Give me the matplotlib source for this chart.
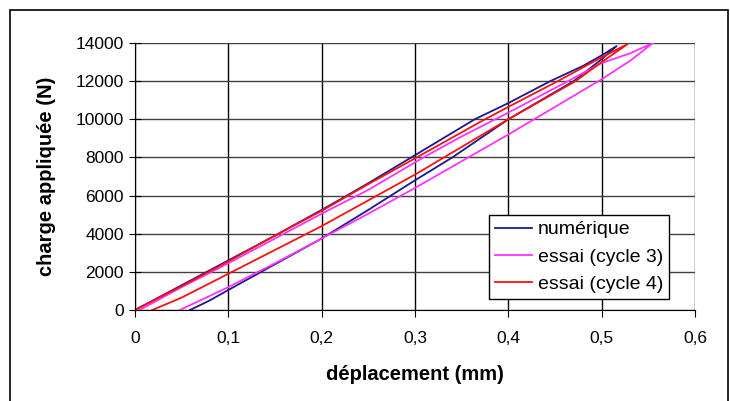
import matplotlib
matplotlib.use("Agg")
import matplotlib.pyplot as plt
from matplotlib.patches import Rectangle

plt.rcParams['font.family'] = ['Liberation Sans', 'DejaVu Sans']

# numérique: loading (lower) then unloading (upper)
num_x = [0.059, 0.08, 0.10, 0.15, 0.20, 0.25, 0.30, 0.34, 0.40, 0.47, 0.50, 0.516,
         0.50, 0.48, 0.445, 0.40, 0.364, 0.296, 0.25, 0.22, 0.20, 0.15, 0.10, 0.05, 0.0]
num_y = [0, 500, 1050, 2400, 3750, 5250, 6800, 8000, 10000, 12000, 13150, 13840,
         13350, 12800, 12000, 10850, 10000, 8000, 6650, 5800, 5250, 3900, 2600, 1300, 0]

# essai cycle 3
c3_x = [0.048, 0.10, 0.15, 0.20, 0.25, 0.30, 0.35, 0.40, 0.45, 0.50, 0.53, 0.555,
        0.53, 0.50, 0.464, 0.40, 0.35, 0.309, 0.25, 0.20, 0.15, 0.10, 0.05, 0.005]
c3_y = [0, 1200, 2450, 3750, 5050, 6400, 7800, 9200, 10650, 12100, 13050, 14000,
        13450, 12950, 12000, 10350, 9100, 8000, 6300, 5050, 3750, 2450, 1200, 0]

# essai cycle 4
c4_x = [0.0186, 0.05, 0.10, 0.15, 0.20, 0.25, 0.30, 0.35, 0.40, 0.472, 0.50, 0.528,
        0.50, 0.453, 0.40, 0.375, 0.30, 0.25, 0.20, 0.15, 0.10, 0.05, 0.0]
c4_y = [0, 650, 1900, 3150, 4400, 5750, 7100, 8550, 10000, 12000, 13000, 13950,
        13250, 12000, 10650, 10000, 7950, 6600, 5200, 3900, 2550, 1250, 0]

series = [("numérique", num_x, num_y, "#1a1a8c"),
          ("essai (cycle 3)", c3_x, c3_y, "#ff33ff"),
          ("essai (cycle 4)", c4_x, c4_y, "#ff1010")]

xticks = [0, 0.1, 0.2, 0.3, 0.4, 0.5, 0.6]
xticklabels = ["0", "0,1", "0,2", "0,3", "0,4", "0,5", "0,6"]
yticks = [0, 2000, 4000, 6000, 8000, 10000, 12000, 14000]

fig = plt.figure(figsize=(7.30, 4.01), dpi=100)
fig.patches.append(Rectangle((10/730, -0.01), 718/730, 1 - 10/401 + 0.01,
                             transform=fig.transFigure, fill=False,
                             edgecolor="black", linewidth=1.2))
ax = fig.add_axes([135/730, 1 - 310/401, 560/730, 267/401])

for label, x, y, c in series:
    ax.plot(x, y, color=c, linewidth=1.3, label=label)

ax.set_xlim(0, 0.6)
ax.set_ylim(0, 14000)
ax.set_xticks(xticks)
ax.set_xticklabels(xticklabels)
ax.set_yticks(yticks)
ax.grid(axis='x', color='black', linewidth=1.0)
ax.grid(axis='y', color='#404040', linewidth=1.0)
ax.set_axisbelow(True)
for s in ['top', 'right']:
    ax.spines[s].set_visible(False)
ax.axhline(14000, color='#909090', linewidth=1.3, zorder=0.5)
ax.spines['left'].set_color('black')
ax.spines['bottom'].set_color('black')
ax.tick_params(axis='both', labelsize=12.5, length=5)
ax.tick_params(axis='y', direction='inout', length=8, pad=4)
ax.tick_params(axis='x', direction='out', pad=10)

ax.set_xlabel("déplacement (mm)", fontsize=14.5, fontweight='bold', labelpad=14)
ax.set_ylabel("charge appliquée (N)", fontsize=14.5, fontweight='bold', labelpad=14)

leg = ax.legend(loc='lower right', bbox_to_anchor=(669/730, 1 - 299/401),
                bbox_transform=fig.transFigure, fontsize=14, frameon=True,
                fancybox=False, edgecolor='black', framealpha=1,
                handlelength=1.9, handletextpad=0.3, borderpad=0.3,
                labelspacing=0.5, borderaxespad=0)
leg.get_frame().set_linewidth(1.0)

fig.savefig("out.png", dpi=100)
